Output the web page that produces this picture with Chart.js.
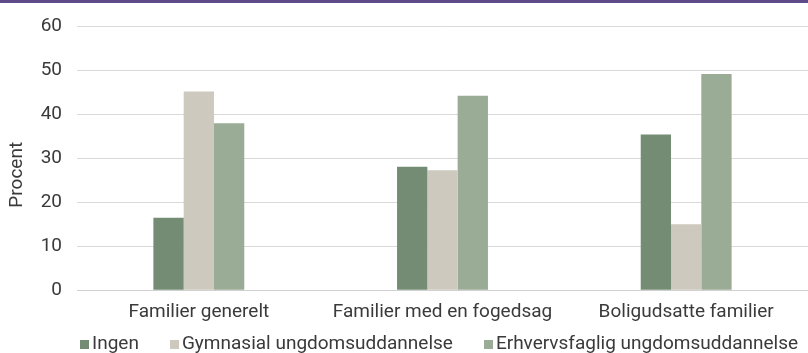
<!DOCTYPE html>
<html lang="da">
<head>
<meta charset="utf-8">
<title>Uddannelse i familier</title>
<script src="https://cdn.jsdelivr.net/npm/chart.js@4.4.1/dist/chart.umd.min.js"></script>
<style>
  html, body { margin: 0; padding: 0; background: #fff; }
  #wrap { position: relative; width: 808px; height: 353px; overflow: hidden; }
  #topbar { position: absolute; left: 0; top: 0; width: 808px; height: 3px; background: #5f4b8b; }
  #legend {
    position: absolute; left: 80px; top: 332px; height: 22px;
    display: flex; align-items: center; white-space: nowrap;
    font: 19px Roboto, "DejaVu Sans", sans-serif; line-height: 22px; color: #3a3a3a;
  }
  #legend .item { display: flex; align-items: center; margin-right: 31px; }
  #legend .item:last-child { margin-right: 0; }
  #legend .box { width: 9px; height: 9px; margin: 3px 3px 0 0; }
</style>
</head>
<body>
<div id="wrap">
  <canvas id="uddannelse" width="808" height="353"></canvas>
  <div id="topbar"></div>
  <div id="legend"></div>
</div>
<script>
// Kategorier og serier (procent)
var categories = ['Familier generelt', 'Familier med en fogedsag', 'Boligudsatte familier'];
var seriesNames = ['Ingen', 'Gymnasial ungdomsuddannelse', 'Erhvervsfaglig ungdomsuddannelse'];
var ingen = [16.5, 28.1, 35.4];
var gymnasial = [45.2, 27.3, 15.0];
var erhvervsfaglig = [38.0, 44.2, 49.2];
var yTicks = [0, 10, 20, 30, 40, 50, 60];

var colors = ['#738c73', '#cdc9be', '#9aab96'];
var textColor = '#3a3a3a';
var fontFamily = 'Roboto, "DejaVu Sans", sans-serif';

var ctx = document.getElementById('uddannelse').getContext('2d');

var chart = new Chart(ctx, {
    type: 'bar',
    data: {
        labels: categories,
        datasets: [ingen, gymnasial, erhvervsfaglig].map(function(values, i) {
            return {
                label: seriesNames[i],
                data: values,
                backgroundColor: colors[i],
                borderWidth: 0,
                barPercentage: 1,
                categoryPercentage: 0.373
            };
        })
    },
    options: {
        responsive: false,
        animation: false,
        layout: {
            padding: { top: 22, right: -2, bottom: 18, left: 0 }
        },
        plugins: {
            tooltip: { enabled: false },
            legend: { display: false }
        },
        scales: {
            x: {
                grid: { display: false, drawTicks: false },
                border: { color: '#d0d0d0', width: 1 },
                ticks: {
                    color: textColor,
                    padding: 11,
                    maxRotation: 0,
                    font: { family: fontFamily, size: 19 }
                }
            },
            y: {
                min: yTicks[0],
                max: yTicks[yTicks.length - 1],
                afterFit: function(scale) { scale.width = 77; },
                afterBuildTicks: function(scale) {
                    scale.ticks = yTicks.map(function(v) { return { value: v }; });
                },
                grid: { color: '#d9d9d9', lineWidth: 1, drawTicks: false },
                border: { display: false },
                ticks: {
                    color: textColor,
                    padding: 15,
                    font: { family: fontFamily, size: 19 }
                },
                title: {
                    display: true,
                    // trailing spaces push the word a little below the axis middle
                    text: 'Procent       ',
                    color: textColor,
                    padding: { top: 6, bottom: 0 },
                    font: { family: fontFamily, size: 19 }
                }
            }
        }
    }
});

// legend row under the axis, built from the chart's own legend items
var legendEl = document.getElementById('legend');
chart.options.plugins.legend.labels.generateLabels(chart).forEach(function(item) {
    var el = document.createElement('span');
    el.className = 'item';
    var box = document.createElement('span');
    box.className = 'box';
    box.style.background = item.fillStyle;
    el.appendChild(box);
    el.appendChild(document.createTextNode(item.text));
    legendEl.appendChild(el);
});
</script>
</body>
</html>
